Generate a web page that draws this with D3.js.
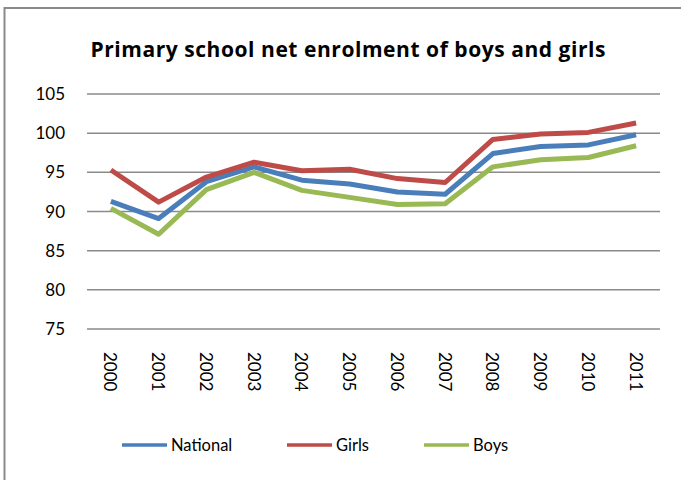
<!DOCTYPE html>
<html>
<head>
<meta charset="utf-8">
<script src="https://cdn.jsdelivr.net/npm/d3@7"></script>
<style>
  body { margin: 0; background: #fff; }
  text { font-family: Lato, "Open Sans", sans-serif; fill: #000; }
</style>
</head>
<body>
<script>
const [width, height] = [681, 480]

const years = ['2000', '2001', '2002', '2003', '2004', '2005',
  '2006', '2007', '2008', '2009', '2010', '2011']
const national = [91.3, 89.1, 93.8, 95.7, 94.0, 93.5, 92.5, 92.2, 97.4, 98.3, 98.5, 99.8]
const girls = [95.3, 91.2, 94.4, 96.3, 95.2, 95.4, 94.2, 93.7, 99.2, 99.9, 100.1, 101.3]
const boys = [90.4, 87.1, 92.8, 95.0, 92.7, 91.8, 90.9, 91.0, 95.7, 96.6, 96.9, 98.4]
const yTicks = [75, 80, 85, 90, 95, 100, 105]

const series = [
  { name: 'National', values: national, color: '#4a7ebb' },
  { name: 'Girls', values: girls, color: '#be4b48' },
  { name: 'Boys', values: boys, color: '#98b954' }
]

const svg = d3.select('body')
  .append('svg')
  .attr('width', width)
  .attr('height', height)

// chart frame (runs off the right and bottom edges)
svg.append('rect')
  .attr('x', 4.5).attr('y', 8)
  .attr('width', 700).attr('height', 500)
  .attr('fill', 'none')
  .attr('stroke', '#8a8a8a')
  .attr('stroke-width', 2)

svg.append('text')
  .attr('x', 348).attr('y', 57)
  .attr('text-anchor', 'middle')
  .attr('textLength', 515)
  .attr('lengthAdjust', 'spacing')
  .style('font-family', '"Open Sans", sans-serif')
  .style('font-size', '21px')
  .style('font-weight', 'bold')
  .text('Primary school net enrolment of boys and girls')

const x = d3.scaleBand().domain(years).range([87, 660])
const y = d3.scaleLinear().domain([75, 105]).range([329, 94])

// gridlines
svg.append('g')
  .selectAll('line')
  .data(yTicks)
  .enter()
  .append('line')
    .attr('x1', 87).attr('x2', 660)
    .attr('y1', d => y(d)).attr('y2', d => y(d))
    .attr('stroke', '#8a8a8a')
    .attr('stroke-width', 1.5)

// y labels
svg.append('g')
  .selectAll('text')
  .data(yTicks)
  .enter()
  .append('text')
    .attr('x', 65)
    .attr('y', d => y(d) + 6)
    .attr('text-anchor', 'end')
    .attr('font-size', '17px')
    .text(d => d)

// x labels, rotated to read top to bottom
svg.append('g')
  .selectAll('text')
  .data(years)
  .enter()
  .append('text')
    .attr('transform', d => `translate(${x(d) + x.bandwidth() / 2 - 6.5},352) rotate(90)`)
    .attr('font-size', '17px')
    .text(d => d)

const line = d3.line()
  .x((d, i) => x(years[i]) + x.bandwidth() / 2)
  .y(d => y(d))

svg.append('g')
  .selectAll('path')
  .data(series)
  .enter()
  .append('path')
    .attr('d', d => line(d.values))
    .attr('fill', 'none')
    .attr('stroke', d => d.color)
    .attr('stroke-width', 5)
    .attr('stroke-linejoin', 'round')

// legend
const legendX = [122, 287, 424]
const legend = svg.append('g')
  .selectAll('g')
  .data(series)
  .enter()
  .append('g')
    .attr('transform', (d, i) => `translate(${legendX[i]},445)`)

legend.append('line')
  .attr('x1', 0).attr('x2', 45)
  .attr('stroke', d => d.color)
  .attr('stroke-width', 3.5)

legend.append('text')
  .attr('x', 49).attr('y', 6)
  .attr('font-size', '16.5px')
  .text(d => d.name)
</script>
</body>
</html>
